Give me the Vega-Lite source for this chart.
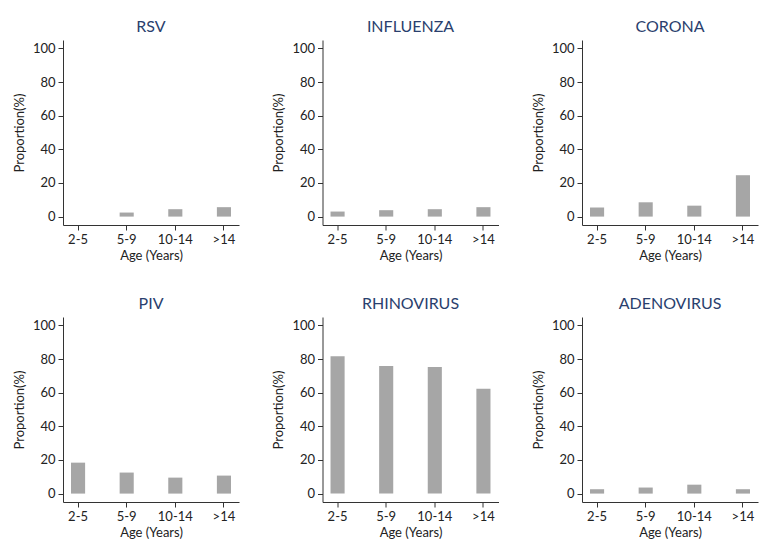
{
  "$schema": "https://vega.github.io/schema/vega-lite/v6.json",
  "padding": {"left": 13, "top": 19, "right": 5, "bottom": 5},
  "background": "white",
  "data": {"values": [
    {"virus": "RSV", "age": "2-5", "p": 0},
    {"virus": "RSV", "age": "5-9", "p": 2.4},
    {"virus": "RSV", "age": "10-14", "p": 4.4},
    {"virus": "RSV", "age": ">14", "p": 5.6},
    {"virus": "INFLUENZA", "age": "2-5", "p": 3.0},
    {"virus": "INFLUENZA", "age": "5-9", "p": 3.8},
    {"virus": "INFLUENZA", "age": "10-14", "p": 4.4},
    {"virus": "INFLUENZA", "age": ">14", "p": 5.6},
    {"virus": "CORONA", "age": "2-5", "p": 5.4},
    {"virus": "CORONA", "age": "5-9", "p": 8.5},
    {"virus": "CORONA", "age": "10-14", "p": 6.5},
    {"virus": "CORONA", "age": ">14", "p": 24.6},
    {"virus": "PIV", "age": "2-5", "p": 18.4},
    {"virus": "PIV", "age": "5-9", "p": 12.5},
    {"virus": "PIV", "age": "10-14", "p": 9.5},
    {"virus": "PIV", "age": ">14", "p": 10.7},
    {"virus": "RHINOVIRUS", "age": "2-5", "p": 81.6},
    {"virus": "RHINOVIRUS", "age": "5-9", "p": 75.9},
    {"virus": "RHINOVIRUS", "age": "10-14", "p": 75.3},
    {"virus": "RHINOVIRUS", "age": ">14", "p": 62.3},
    {"virus": "ADENOVIRUS", "age": "2-5", "p": 2.6},
    {"virus": "ADENOVIRUS", "age": "5-9", "p": 3.6},
    {"virus": "ADENOVIRUS", "age": "10-14", "p": 5.3},
    {"virus": "ADENOVIRUS", "age": ">14", "p": 2.6}
  ]},
  "facet": {
    "field": "virus",
    "type": "nominal",
    "sort": ["RSV", "INFLUENZA", "CORONA", "PIV", "RHINOVIRUS", "ADENOVIRUS"],
    "header": {"title": null, "labelFontSize": 16, "labelColor": "#2a3f6e", "labelFont": "Lato", "labelPadding": 5}
  },
  "columns": 3,
  "spacing": {"column": 33.5, "row": 34},
  "resolve": {"axis": {"x": "independent", "y": "independent"}},
  "spec": {
    "width": 176,
    "height": 185,
    "mark": {"type": "bar", "color": "#a6a6a6"},
    "encoding": {
      "x": {
        "field": "age", "type": "nominal",
        "sort": ["2-5", "5-9", "10-14", ">14"],
        "scale": {"paddingInner": 0.71, "paddingOuter": 0.165},
        "axis": {"title": "Age (Years)", "labelAngle": 0, "titlePadding": 3}
      },
      "y": {
        "field": "p", "type": "quantitative",
        "scale": {"domain": [-5, 105], "nice": false, "zero": false},
        "axis": {"title": "Proportion(%)", "values": [0, 20, 40, 60, 80, 100], "titlePadding": 6}
      },
      "y2": {"datum": 0}
    }
  },
  "config": {
    "view": {"stroke": null},
    "font": "Lato",
    "axis": {
      "grid": false,
      "domainColor": "#333333",
      "tickColor": "#333333",
      "tickSize": 5,
      "labelFontSize": 13,
      "labelColor": "#222222",
      "labelFont": "Lato",
      "titleFont": "Lato",
      "titleFontSize": 13,
      "titleFontWeight": "normal",
      "titleColor": "#222222",
      "labelPadding": 3
    }
  }
}
